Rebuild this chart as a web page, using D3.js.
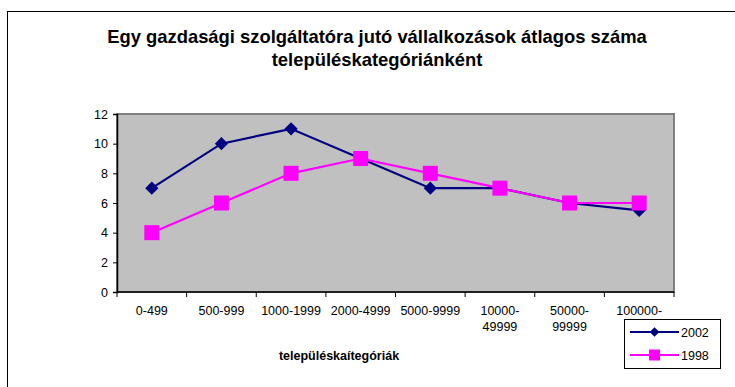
<!DOCTYPE html>
<html>
<head>
<meta charset="utf-8">
<script src="https://cdn.jsdelivr.net/npm/d3@7"></script>
<style>
  html, body { margin: 0; padding: 0; background: #fff; }
  svg { display: block; font-family: "Liberation Sans", Arial, sans-serif; }
</style>
</head>
<body>
<svg id="chart" width="735" height="387"></svg>
<script>
// Settlement size categories (x axis)
const categories = ["0-499", "500-999", "1000-1999", "2000-4999", "5000-9999", "10000-\n49999", "50000-\n99999", "100000-"];
// Average number of enterprises per economic service provider
const values2002 = [7, 10, 11, 9, 7, 7, 6, 5.5];
const values1998 = [4, 6, 8, 9, 8, 7, 6, 6];
const yTicks = [0, 2, 4, 6, 8, 10, 12];
const seriesNames = ["2002", "1998"];
const titleLines = ["Egy gazdasági szolgáltatóra jutó vállalkozások átlagos száma", "településkategóriánként"];
const xTitle = "településkaítegóriák";

const svg = d3.select("#chart");

// Outer chart frame
svg.append("rect")
  .attr("x", 7.5).attr("y", 11.5)
  .attr("width", 740).attr("height", 400)
  .attr("fill", "#fff").attr("stroke", "#000").attr("stroke-width", 1);

const plot = { left: 117, top: 114, right: 674, bottom: 292 };

const x = d3.scaleBand().domain(categories).range([plot.left, plot.right]).padding(0);
const y = d3.scaleLinear().domain([0, 12]).range([plot.bottom, plot.top]);

// Plot background
svg.append("rect")
  .attr("x", plot.left).attr("y", plot.top)
  .attr("width", plot.right - plot.left).attr("height", plot.bottom - plot.top)
  .attr("fill", "#c0c0c0").attr("stroke", "#808080").attr("stroke-width", 2);

// Title
svg.append("text")
  .attr("text-anchor", "middle")
  .attr("font-size", 18.4).attr("font-weight", "bold")
  .selectAll("tspan").data(titleLines).join("tspan")
  .attr("x", 377).attr("y", (d, i) => 43 + i * 22.5)
  .text(d => d);

// Y axis
const yAxis = svg.append("g")
  .attr("transform", `translate(${plot.left},0)`)
  .call(d3.axisLeft(y).tickValues(yTicks).tickSize(4).tickPadding(5));
yAxis.select(".domain").attr("stroke", "#000").attr("stroke-width", 1.5);
yAxis.selectAll(".tick line").attr("stroke", "#000");
yAxis.selectAll(".tick text").attr("font-size", 12.5).attr("fill", "#000")
  .attr("font-family", "'Liberation Sans', Arial, sans-serif");

// X axis with ticks at category boundaries
const xAxis = svg.append("g")
  .attr("transform", `translate(0,${plot.bottom})`);
xAxis.append("line")
  .attr("x1", plot.left).attr("x2", plot.right)
  .attr("stroke", "#000").attr("stroke-width", 1.5);
const bounds = categories.map(c => x(c)).concat([plot.right]);
xAxis.selectAll(".btick").data(bounds).join("line")
  .attr("class", "btick")
  .attr("x1", d => d).attr("x2", d => d)
  .attr("y1", 0).attr("y2", 5)
  .attr("stroke", "#000");
const xLabels = xAxis.selectAll(".xl").data(categories).join("text")
  .attr("class", "xl")
  .attr("text-anchor", "middle")
  .attr("font-size", 12.5);
xLabels.selectAll("tspan").data(d => d.split("\n").map(t => ({ t, c: d }))).join("tspan")
  .attr("x", d => x(d.c) + x.bandwidth() / 2)
  .attr("y", (d, i) => 23 + i * 16)
  .text(d => d.t);

// X axis title
svg.append("text")
  .attr("x", 339).attr("y", 360)
  .attr("text-anchor", "middle")
  .attr("font-size", 12.5).attr("font-weight", "bold")
  .text(xTitle);

const cx = (d, i) => x(categories[i]) + x.bandwidth() / 2;
const line = d3.line().x(cx).y(d => y(d));

const diamond = d3.symbol().type(d3.symbolDiamond2).size(110);
const legendDiamond = d3.symbol().type(d3.symbolDiamond2).size(60);

// Series 2002
svg.append("path").datum(values2002)
  .attr("d", line).attr("fill", "none")
  .attr("stroke", "#000080").attr("stroke-width", 2.2);
svg.selectAll(".m2002").data(values2002).join("path")
  .attr("class", "m2002")
  .attr("d", diamond)
  .attr("transform", (d, i) => `translate(${cx(d, i)},${y(d)})`)
  .attr("fill", "#000080");

// Series 1998
svg.append("path").datum(values1998)
  .attr("d", line).attr("fill", "none")
  .attr("stroke", "#ff00ff").attr("stroke-width", 2.2);
const sq = 15;
svg.selectAll(".m1998").data(values1998).join("rect")
  .attr("class", "m1998")
  .attr("x", (d, i) => cx(d, i) - sq / 2)
  .attr("y", d => y(d) - sq / 2)
  .attr("width", sq).attr("height", sq)
  .attr("fill", "#ff00ff");

// Legend
const legend = svg.append("g");
legend.append("rect")
  .attr("x", 624.5).attr("y", 319.5).attr("width", 96).attr("height", 49)
  .attr("fill", "#fff").attr("stroke", "#000");
const colors = ["#000080", "#ff00ff"];
seriesNames.forEach((name, i) => {
  const ly = 332 + i * 23;
  legend.append("line")
    .attr("x1", 630).attr("x2", 679).attr("y1", ly).attr("y2", ly)
    .attr("stroke", colors[i]).attr("stroke-width", 2.2);
  if (i === 0) {
    legend.append("path").attr("d", legendDiamond)
      .attr("transform", `translate(654.5,${ly})`).attr("fill", colors[i]);
  } else {
    legend.append("rect")
      .attr("x", 654.5 - 5.5).attr("y", ly - 5.5).attr("width", 11).attr("height", 11)
      .attr("fill", colors[i]);
  }
  legend.append("text")
    .attr("x", 681).attr("y", ly + 4.5)
    .attr("font-size", 12.5)
    .text(name);
});
</script>
</body>
</html>
